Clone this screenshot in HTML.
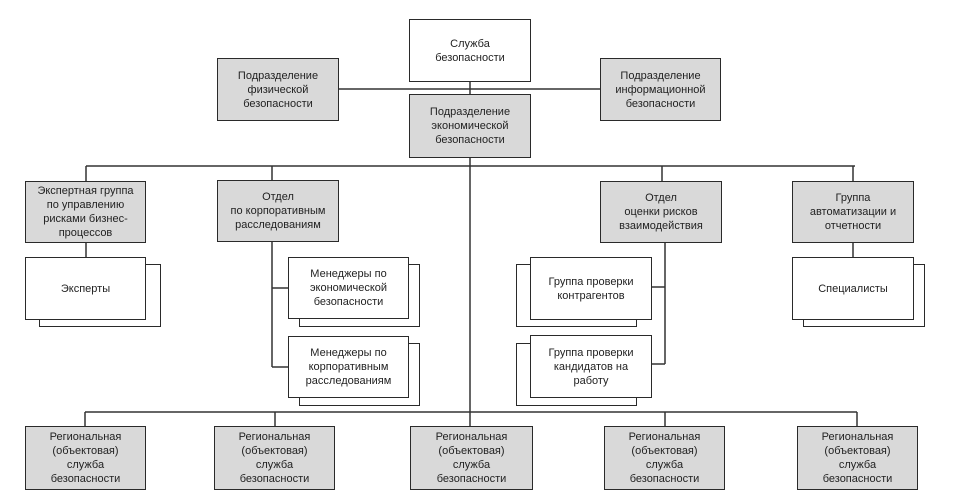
<!DOCTYPE html>
<html><head><meta charset="utf-8"><style>
body{margin:0;width:959px;height:502px;background:#fff;position:relative;overflow:hidden;font-family:"Liberation Sans","DejaVu Sans",sans-serif;}
.b{position:absolute;box-sizing:border-box;border:1.5px solid #2a2a2a;background:#fff;display:flex;align-items:center;justify-content:center;text-align:center;font-size:11px;line-height:14px;color:#222;}
.g{background:#d9d9d9;}
svg{position:absolute;left:0;top:0;}
</style></head><body>
<svg width="959" height="502">
<g stroke="#333" stroke-width="1.5" fill="none">
<line x1="339" y1="89" x2="600" y2="89"/>
<line x1="470" y1="82" x2="470" y2="94"/>
<line x1="86" y1="166" x2="855" y2="166"/>
<line x1="86" y1="166" x2="86" y2="181"/>
<line x1="272" y1="166" x2="272" y2="180"/>
<line x1="662" y1="166" x2="662" y2="181"/>
<line x1="853" y1="166" x2="853" y2="181"/>
<line x1="470" y1="158" x2="470" y2="426"/>
<line x1="86" y1="243" x2="86" y2="257"/>
<line x1="853" y1="243" x2="853" y2="257"/>
<line x1="272" y1="242" x2="272" y2="367"/>
<line x1="272" y1="288" x2="288" y2="288"/>
<line x1="272" y1="367" x2="288" y2="367"/>
<line x1="665" y1="243" x2="665" y2="364"/>
<line x1="652" y1="287" x2="665" y2="287"/>
<line x1="652" y1="364" x2="665" y2="364"/>
<line x1="85" y1="412" x2="857" y2="412"/>
<line x1="85" y1="412" x2="85" y2="426"/>
<line x1="275" y1="412" x2="275" y2="426"/>
<line x1="665" y1="412" x2="665" y2="426"/>
<line x1="857" y1="412" x2="857" y2="426"/>
</g>
</svg>
<div class="b" style="left:409px;top:19px;width:122px;height:63px;">Служба<br>безопасности</div>
<div class="b g" style="left:217px;top:58px;width:122px;height:63px;">Подразделение<br>физической<br>безопасности</div>
<div class="b g" style="left:600px;top:58px;width:121px;height:63px;">Подразделение<br>информационной<br>безопасности</div>
<div class="b g" style="left:409px;top:94px;width:122px;height:64px;">Подразделение<br>экономической<br>безопасности</div>

<div class="b g" style="left:25px;top:181px;width:121px;height:62px;">Экспертная группа<br>по управлению<br>рисками бизнес-<br>процессов</div>
<div class="b g" style="left:217px;top:180px;width:122px;height:62px;">Отдел<br>по корпоративным<br>расследованиям</div>
<div class="b g" style="left:600px;top:181px;width:122px;height:62px;">Отдел<br>оценки рисков<br>взаимодействия</div>
<div class="b g" style="left:792px;top:181px;width:122px;height:62px;">Группа<br>автоматизации и<br>отчетности</div>

<div class="b" style="left:39px;top:264px;width:122px;height:63px;"></div>
<div class="b" style="left:25px;top:257px;width:121px;height:63px;">Эксперты</div>
<div class="b" style="left:299px;top:264px;width:121px;height:63px;"></div>
<div class="b" style="left:288px;top:257px;width:121px;height:62px;">Менеджеры по<br>экономической<br>безопасности</div>
<div class="b" style="left:299px;top:343px;width:121px;height:63px;"></div>
<div class="b" style="left:288px;top:336px;width:121px;height:62px;">Менеджеры по<br>корпоративным<br>расследованиям</div>
<div class="b" style="left:516px;top:264px;width:121px;height:63px;"></div>
<div class="b" style="left:530px;top:257px;width:122px;height:63px;">Группа проверки<br>контрагентов</div>
<div class="b" style="left:516px;top:343px;width:121px;height:63px;"></div>
<div class="b" style="left:530px;top:335px;width:122px;height:63px;">Группа проверки<br>кандидатов на<br>работу</div>
<div class="b" style="left:803px;top:264px;width:122px;height:63px;"></div>
<div class="b" style="left:792px;top:257px;width:122px;height:63px;">Специалисты</div>

<div class="b g" style="left:25px;top:426px;width:121px;height:64px;">Региональная<br>(объектовая)<br>служба<br>безопасности</div>
<div class="b g" style="left:214px;top:426px;width:121px;height:64px;">Региональная<br>(объектовая)<br>служба<br>безопасности</div>
<div class="b g" style="left:410px;top:426px;width:123px;height:64px;">Региональная<br>(объектовая)<br>служба<br>безопасности</div>
<div class="b g" style="left:604px;top:426px;width:121px;height:64px;">Региональная<br>(объектовая)<br>служба<br>безопасности</div>
<div class="b g" style="left:797px;top:426px;width:121px;height:64px;">Региональная<br>(объектовая)<br>служба<br>безопасности</div>
</body></html>
